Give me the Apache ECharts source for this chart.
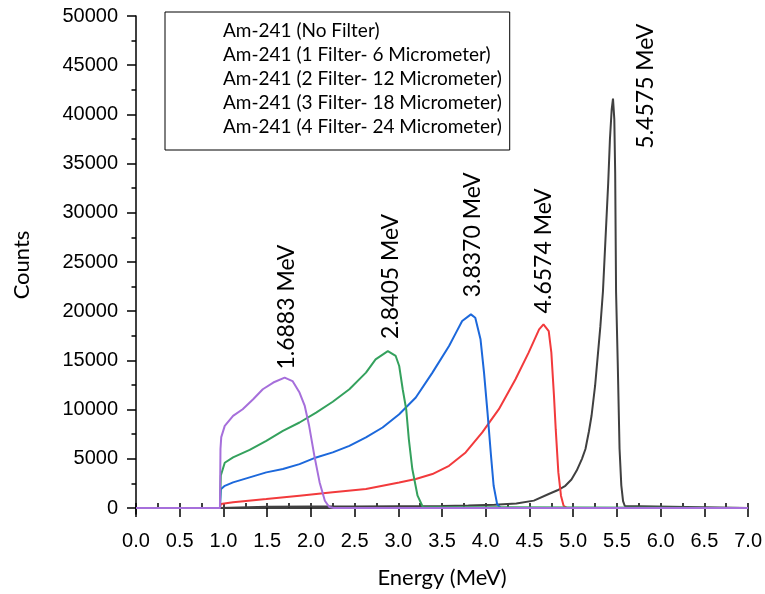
<!DOCTYPE html>
<html>
<head>
<meta charset="utf-8">
<title>Am-241 spectra</title>
<script src="https://cdn.jsdelivr.net/npm/echarts@6/dist/echarts.min.js"></script>
<style>
  html, body { margin: 0; padding: 0; background: #fff; }
  #chart { width: 765px; height: 594px; }
</style>
</head>
<body>
<div id="chart"></div>
<script>
// series names (legend order)
const seriesNames = [
  'Am-241 (No Filter)',
  'Am-241 (1 Filter- 6 Micrometer)',
  'Am-241 (2 Filter- 12 Micrometer)',
  'Am-241 (3 Filter- 18 Micrometer)',
  'Am-241 (4 Filter- 24 Micrometer)'
]

// energy (MeV) / counts
const noFilterE = [0, 0.96, 0.97, 1.5, 2.0, 2.5, 3.0, 3.5, 3.8, 4.1, 4.35, 4.55, 4.72, 4.82, 4.91, 4.98, 5.04, 5.10, 5.14, 5.18, 5.21, 5.25, 5.27, 5.31, 5.34, 5.37, 5.40, 5.42, 5.44, 5.455, 5.47, 5.48, 5.49, 5.51, 5.53, 5.55, 5.57, 5.59, 5.61, 7.0]
const noFilterC = [0, 0, 120, 130, 140, 150, 170, 200, 260, 330, 450, 750, 1420, 1800, 2260, 2900, 3800, 5000, 6000, 7800, 9400, 12400, 14400, 18400, 22000, 27500, 33000, 37500, 40500, 41600, 39500, 34000, 22000, 14400, 6000, 2300, 700, 200, 0, 0]

const filter1E = [0, 0.96, 0.97, 1.11, 1.49, 1.87, 2.25, 2.63, 3.01, 3.20, 3.39, 3.58, 3.77, 3.96, 4.15, 4.34, 4.49, 4.61, 4.66, 4.72, 4.75, 4.78, 4.80, 4.83, 4.86, 4.89, 4.93, 7.0]
const filter1C = [0, 0, 400, 580, 910, 1250, 1590, 1930, 2600, 2950, 3450, 4290, 5650, 7680, 10040, 13080, 15790, 18150, 18660, 17980, 15790, 11390, 8010, 3620, 1250, 230, 0, 0]

const filter2E = [0, 0.96, 0.97, 1.015, 1.11, 1.30, 1.49, 1.68, 1.87, 2.06, 2.25, 2.44, 2.63, 2.82, 3.01, 3.20, 3.39, 3.58, 3.66, 3.73, 3.83, 3.88, 3.94, 3.98, 4.02, 4.06, 4.09, 4.13, 4.17, 7.0]
const filter2C = [0, 0, 1900, 2250, 2600, 3110, 3620, 3960, 4460, 5140, 5650, 6320, 7170, 8180, 9530, 11230, 13760, 16460, 17820, 19000, 19680, 19340, 17140, 13760, 9700, 5300, 2260, 400, 0, 0]

const filter3E = [0, 0.96, 0.97, 1.015, 1.11, 1.30, 1.49, 1.68, 1.87, 2.06, 2.25, 2.44, 2.63, 2.74, 2.88, 2.97, 3.01, 3.05, 3.09, 3.12, 3.16, 3.22, 3.28, 7.0]
const filter3C = [0, 0, 3300, 4600, 5140, 5900, 6830, 7840, 8690, 9700, 10800, 12070, 13760, 15110, 15950, 15450, 14430, 12070, 10040, 7000, 3960, 1250, 100, 0]

const filter4E = [0, 0.96, 0.966, 0.975, 1.015, 1.11, 1.22, 1.34, 1.45, 1.57, 1.70, 1.79, 1.87, 1.93, 1.98, 2.04, 2.10, 2.16, 2.21, 2.26, 7.0]
const filter4C = [0, 0, 6000, 7200, 8350, 9360, 10040, 11050, 12070, 12750, 13250, 12900, 11730, 10370, 8350, 5300, 2600, 740, 100, 0, 0]

// peak annotations (MeV)
const peakLabels = ['5.4575', '4.6574', '3.8370', '2.8405', '1.6883']

const colors = ['#404040', '#f23a3c', '#1c68db', '#34a15d', '#a66fdb']
// label shift from the peak, px
const labelShift = [[33, 50], [0, -11], [2, -17], [3, -12], [2, -8]]

const pairs = (xs, ys) => xs.map((x, i) => [x, ys[i]])
const allData = [
  pairs(noFilterE, noFilterC),
  pairs(filter1E, filter1C),
  pairs(filter2E, filter2C),
  pairs(filter3E, filter3C),
  pairs(filter4E, filter4C)
]

const chart = echarts.init(document.getElementById('chart'))

const axisColor = '#000'
const tickStyle = { color: axisColor, width: 1.5 }

const series = allData.map((data, i) => {
  let peak = data[0]
  data.forEach(d => { if (d[1] > peak[1]) peak = d })
  return {
    name: seriesNames[i],
    type: 'line',
    xAxisIndex: 0,
    yAxisIndex: 0,
    data: data,
    symbol: 'none',
    smooth: false,
    lineStyle: { color: colors[i], width: 2 },
    itemStyle: { color: colors[i] },
    markPoint: {
      symbol: 'circle',
      symbolSize: 0,
      silent: true,
      data: [{ coord: peak, value: peakLabels[i] }],
      label: {
        show: true,
        formatter: peakLabels[i] + ' MeV',
        position: labelShift[i],
        rotate: 90,
        align: 'left',
        verticalAlign: 'middle',
        fontFamily: 'Lato',
        fontSize: 23,
        color: '#000'
      }
    }
  }
})

const option = {
  animation: false,
  backgroundColor: '#fff',
  grid: [
    { left: 136, right: 15, top: 16, bottom: 85 },   // plot area (0 counts at y=509)
    { left: 136, right: 15, top: 16, bottom: 80 }    // frame for the full-length left axis line
  ],
  legend: {
    data: seriesNames,
    orient: 'vertical',
    left: 165,
    top: 12,
    padding: [9, 8, 13, 8],
    itemGap: 4,
    itemWidth: 45,
    itemHeight: 20,
    icon: 'rect',
    itemStyle: { color: 'rgba(0,0,0,0)', borderWidth: 0 },
    borderColor: '#000',
    borderWidth: 1,
    selectedMode: false,
    textStyle: { fontFamily: 'Lato', fontSize: 19, color: '#000' }
  },
  xAxis: [
    {
      gridIndex: 0,
      type: 'value',
      min: 0,
      max: 7,
      interval: 0.5,
      offset: 5,
      name: 'Energy (MeV)',
      nameLocation: 'middle',
      nameGap: 54,
      nameTextStyle: { fontFamily: 'Lato', fontSize: 22, color: '#000' },
      axisLine: { show: true, lineStyle: { color: axisColor, width: 1.5 } },
      axisTick: { show: true, length: 9, lineStyle: tickStyle },
      axisLabel: {
        margin: 18,
        fontFamily: 'Liberation Sans',
        fontSize: 20,
        color: '#000',
        formatter: v => v.toFixed(1)
      },
      splitLine: { show: false }
    },
    {
      // minor ticks
      gridIndex: 0,
      type: 'value',
      min: 0,
      max: 7,
      interval: 0.25,
      offset: 5,
      axisLine: { show: false },
      axisTick: { show: true, length: 5, lineStyle: tickStyle },
      axisLabel: { show: false },
      splitLine: { show: false }
    },
    {
      gridIndex: 1,
      type: 'value',
      show: false
    }
  ],
  yAxis: [
    {
      gridIndex: 0,
      type: 'value',
      min: 0,
      max: 50000,
      interval: 5000,
      axisLine: { show: false },
      axisTick: { show: true, length: 9, lineStyle: tickStyle },
      axisLabel: {
        margin: 18,
        fontFamily: 'Liberation Sans',
        fontSize: 20,
        color: '#000',
        formatter: v => String(v)
      },
      splitLine: { show: false }
    },
    {
      // minor ticks
      gridIndex: 0,
      type: 'value',
      min: 0,
      max: 50000,
      interval: 2500,
      position: 'left',
      axisLine: { show: false },
      axisTick: { show: true, length: 4.5, lineStyle: tickStyle },
      axisLabel: { show: false },
      splitLine: { show: false }
    },
    {
      gridIndex: 1,
      type: 'value',
      min: 0,
      max: 1,
      position: 'left',
      name: 'Counts',
      nameLocation: 'middle',
      nameGap: 103,
      nameTextStyle: { fontFamily: 'Lato', fontSize: 22, color: '#000' },
      axisLine: { show: true, lineStyle: { color: axisColor, width: 1.5 } },
      axisTick: { show: false },
      axisLabel: { show: false },
      splitLine: { show: false }
    }
  ],
  series: series
}

chart.setOption(option)
</script>
</body>
</html>
